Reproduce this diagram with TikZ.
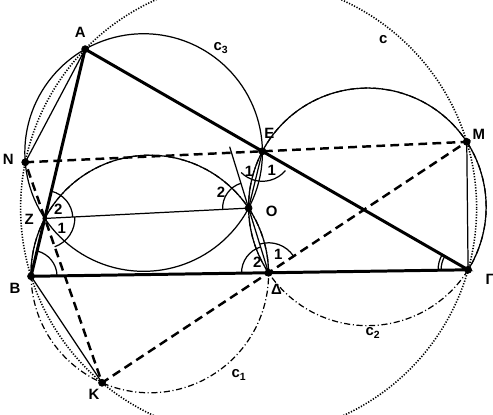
\documentclass[tikz,border=0pt]{standalone}
\usepackage{fontspec}
\setmainfont{Liberation Sans}
\usetikzlibrary{calc}

\tikzset{
  side/.style={line width=1.7pt},
  thin/.style={line width=0.7pt},
  dashside/.style={line width=1.4pt, dash pattern=on 5pt off 3pt},
  circdots/.style={line width=0.9pt, dash pattern=on 0.7pt off 0.9pt},
  dashdot/.style={line width=0.7pt, dash pattern=on 3.5pt off 1.5pt on 0.6pt off 1.5pt},
  lbl/.style={font=\bfseries\fontsize{8.5}{9}\selectfont, inner sep=0.5pt},
}

\begin{document}
\begin{tikzpicture}[x=0.02cm,y=0.02cm]
        \def\Rc{228}
        \def\rot{32.6}
        \pgfmathsetmacro{\rr}{\Rc/(2*cos(\rot/2))}
        \clip (-248.6,-205.9) rectangle (244.4,208.1);
        % Triangle and its rotated copy
        \coordinate (O) at (0,0);
        \coordinate (A) at (135.8:\Rc);
        \coordinate (B) at (197.4:\Rc);
        \coordinate (G) at (-15.7:\Rc);
        \coordinate (N) at ({135.8+\rot}:\Rc);
        \coordinate (K) at ({197.4+\rot}:\Rc);
        \coordinate (M) at ({-15.7+\rot}:\Rc);
        \coordinate (Z) at (intersection of A--B and N--K);
        \coordinate (E) at (intersection of A--G and N--M);
        \coordinate (D) at (intersection of B--G and K--M);
        % Centres of c1, c2, c3
        \coordinate (C1) at ({197.4+\rot/2}:\rr);
        \coordinate (C2) at ({-15.7+\rot/2}:\rr);
        \coordinate (C3) at ({135.8+\rot/2}:\rr);
        % Circles
        \draw[circdots] (O) circle (\Rc);
        \draw[thin] (C3) circle (\rr);
        \draw[dashdot] (C1) circle (\rr);
        \draw[thin] (D) arc[start angle=0.6, end angle=181.1, radius=\rr];
        \draw[dashdot] (C2) circle (\rr);
        \draw[thin] (G) arc[start angle=-32, end angle=213.7, radius=\rr];
        % Chords and lines through O
        \draw[thin] (A) -- (N);
        \draw[thin] (B) -- (K);
        \draw[thin] (G) -- (M);
        \draw[thin] (Z) -- (O) -- (E);
        \draw[thin] (D) -- ($(D)!1.95!(O)$);
        \draw[dashside] (N) -- (M) -- (K) -- cycle;
        \draw[side] (A) -- (B) -- (G) -- cycle;
        % Angles
        \draw[thin] (B) ++(0.85:26) arc[start angle=0.85, end angle=76.6, radius=26];
        \draw[thin] (G) ++(150.1:27) arc[start angle=150.1, end angle=180.85, radius=27];
        \draw[thin] (G) ++(150.1:30) arc[start angle=150.1, end angle=180.85, radius=30];
        \draw[thin] (D) ++(180.85:27) arc[start angle=180.85, end angle=107.1, radius=27];
        \draw[thin] (D) ++(107.1:30) arc[start angle=107.1, end angle=33.5, radius=30];
        \draw[thin] (Z) ++(76.6:28) arc[start angle=76.6, end angle=3, radius=28];
        \draw[thin] (Z) ++(3:30) arc[start angle=3, end angle=-70.8, radius=30];
        \draw[thin] (O) ++(107.1:26) arc[start angle=107.1, end angle=183, radius=26];
        \draw[thin] (E) ++(225:30) arc[start angle=225, end angle=320, radius=30];
        % Points
        \foreach \p in {A,B,G,N,K,M,E,O,D}
          \filldraw (\p) circle (3.5);
        \filldraw (Z) circle (2);
        % Labels
        \node[lbl] (lA) at ($(A)+(-5,17)$) {A};
        \node[lbl] (lN) at ($(N)+(-17,3)$) {N};
        \node[lbl] (lZ) at ($(Z)+(-15.5,-1)$) {Z};
        \node[lbl] (lB) at ($(B)+(-16,-12)$) {B};
        \node[lbl] (lK) at ($(K)+(-8,-12)$) {K};
        \node[lbl] (lD) at ($(D)+(8,-17)$) {Δ};
        \node[lbl] (lG) at ($(G)+(22,-10)$) {Γ};
        \node[lbl] (lM) at ($(M)+(12,7)$) {M};
        \node[lbl] (lE) at ($(E)+(7,18)$) {E};
        \node[lbl] (lO) at ($(O)+(23,-3.6)$) {O};
        \node[lbl] (lc) at (134.7,168.8) {c};
        \node[lbl] (lc1) at (-9.6,-166.9) {c\textsubscript{1}};
        \node[lbl] (lc2) at (124.4,-124.9) {c\textsubscript{2}};
        \node[lbl] (lc3) at (-27.6,160.1) {c\textsubscript{3}};
        \node[lbl] (z2) at ($(Z)+(13.5,8.7)$) {2};
        \node[lbl] (z1) at ($(Z)+(16.9,-9.6)$) {1};
        \node[lbl] (e1) at ($(E)+(-13.3,-19.7)$) {1};
        \node[lbl] (e2) at ($(E)+(9.4,-18.7)$) {1};
        \node[lbl] (o2) at ($(O)+(-27.6,15.8)$) {2};
        \node[lbl] (d2) at ($(D)+(-11.2,10.5)$) {2};
        \node[lbl] (d1) at ($(D)+(9.8,18.8)$) {1};
    \end{tikzpicture}
\end{document}
